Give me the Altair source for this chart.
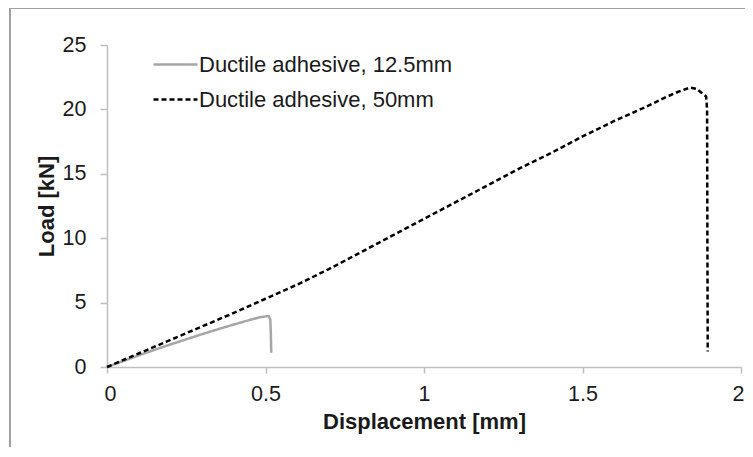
import altair as alt
import pandas as pd

# 12.5 mm overlap (grey solid)
x_125 = [0, 0.05, 0.1, 0.15, 0.2, 0.25, 0.3, 0.35, 0.4, 0.45, 0.48, 0.5, 0.51, 0.515, 0.517, 0.518]
y_125 = [0, 0.45, 0.9, 1.33, 1.75, 2.15, 2.55, 2.93, 3.3, 3.65, 3.85, 3.93, 3.95, 3.7, 2.5, 1.1]

# 50 mm overlap (black dashed)
x_50 = [0, 0.1, 0.2, 0.3, 0.4, 0.5, 0.6, 0.7, 0.8, 0.9, 1.0, 1.1, 1.2, 1.3, 1.4, 1.5,
        1.6, 1.7, 1.75, 1.8, 1.84, 1.86, 1.875, 1.89, 1.893, 1.894, 1.895]
y_50 = [0, 1.05, 2.1, 3.15, 4.2, 5.3, 6.4, 7.6, 8.9, 10.2, 11.5, 12.8, 14.1, 15.4, 16.6, 17.9,
        19.1, 20.2, 20.8, 21.35, 21.7, 21.6, 21.3, 21.0, 20.0, 10.0, 1.2]

series_names = ["Ductile adhesive, 12.5mm", "Ductile adhesive, 50mm"]
x_ticks = [0, 0.5, 1, 1.5, 2]
y_ticks = [0, 5, 10, 15, 20, 25]

rows = []
for i, (xv, yv) in enumerate(zip(x_125, y_125)):
    rows.append({"s": series_names[0], "x": xv, "y": yv, "i": i})
for i, (xv, yv) in enumerate(zip(x_50, y_50)):
    rows.append({"s": series_names[1], "x": xv, "y": yv, "i": i})
df = pd.DataFrame(rows)

FONT = "Liberation Sans"
AX = "#bfbfbf"

lines = alt.Chart(df).mark_line(strokeWidth=2.5).encode(
    x=alt.X("x:Q", scale=alt.Scale(domain=[0, 2], nice=False),
            axis=alt.Axis(values=x_ticks, title="Displacement [mm]", format="~g",
                          titleX=317, titleY=61, titleBaseline="alphabetic",
                          tickSize=6, labelPadding=10, labelFlush=True, labelFlushOffset=3)),
    y=alt.Y("y:Q", scale=alt.Scale(domain=[0, 25], nice=False),
            axis=alt.Axis(values=y_ticks, title="Load [kN]",
                          titleX=-61, titleY=161, titleBaseline="middle", titleAngle=-90,
                          tickSize=7, labelPadding=14, labelFlush=False)),
    color=alt.Color("s:N", scale=alt.Scale(domain=series_names, range=["#a6a6a6", "#000000"]),
                    legend=alt.Legend(title=None, orient="none", legendX=45, legendY=-4,
                                      symbolType="stroke", symbolSize=1936, symbolStrokeWidth=2.5,
                                      labelFont=FONT, labelFontSize=22, labelColor="#1a1a1a",
                                      labelOffset=0, rowPadding=0, labelLimit=400)),
    strokeDash=alt.StrokeDash("s:N", scale=alt.Scale(domain=series_names, range=[[1, 0], [5, 3]]),
                              legend=None),
    order="i:Q",
)

border_top = alt.Chart(df).mark_rule(color="#a0a0a0", strokeWidth=1.5).encode(
    x=alt.value(-97), x2=alt.value(660), y=alt.value(-37))
border_left = alt.Chart(df).mark_rule(color="#a0a0a0", strokeWidth=1.5).encode(
    x=alt.value(-97), y=alt.value(-37), y2=alt.value(430))

chart = alt.layer(border_top, border_left, lines).properties(
    width=634, height=322,
    autosize=alt.AutoSizeParams(type="none"),
    padding={"left": 99, "top": 37, "right": 4, "bottom": 80},
).configure_view(stroke=None).configure_axis(
    grid=False, domainColor=AX, domainWidth=1.5, tickColor=AX, tickWidth=1.5,
    labelFont=FONT, labelFontSize=21.5, labelColor="#1a1a1a",
    titleFont=FONT, titleFontSize=22, titleFontWeight="bold", titleColor="#1a1a1a",
)

chart.save("out.html", embed_options={"renderer": "svg", "actions": False})
